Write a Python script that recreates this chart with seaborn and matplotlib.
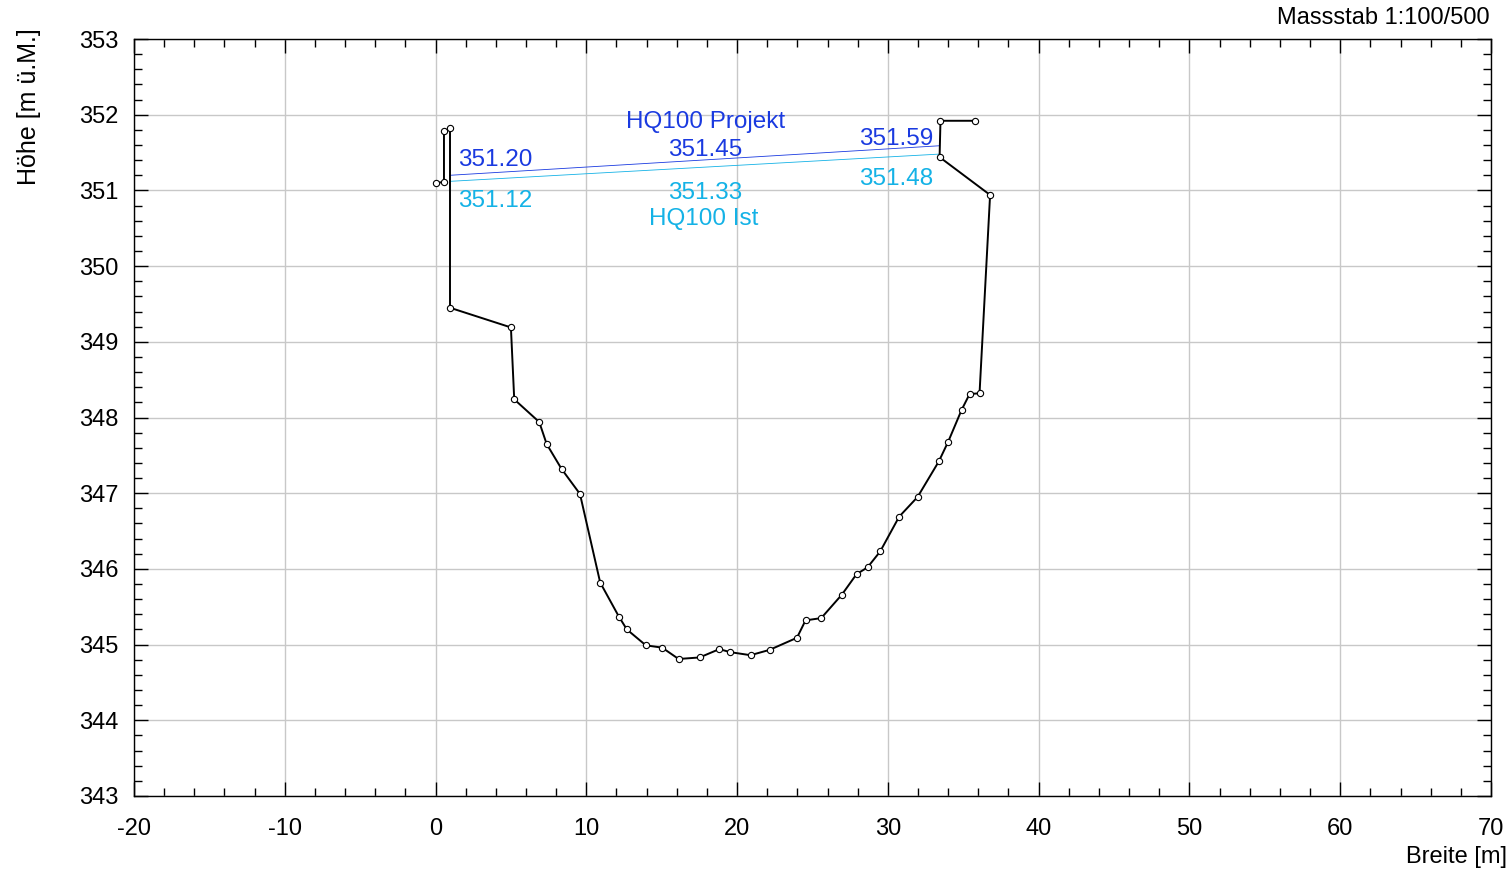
import seaborn as sns
import matplotlib.pyplot as plt
import pandas as pd
from matplotlib.ticker import MultipleLocator

# Querprofil (Breite [m], Höhe [m ü.M.])
profil_x = [0.0, 0.56, 0.56, 0.96, 0.96, 5.0, 5.22, 6.88, 7.37, 8.36, 9.58,
            10.92, 12.16, 12.69, 13.95, 15.03, 16.12, 17.51, 18.82, 19.55, 20.89,
            22.15, 23.97, 24.54, 25.58, 26.95, 27.92, 28.65, 29.49, 30.75, 31.97,
            33.38, 34.0, 34.89, 35.42, 36.08, 36.78, 33.43, 33.49, 35.79]
profil_y = [351.10, 351.11, 351.78, 351.82, 349.45, 349.19, 348.24, 347.94, 347.65,
            347.32, 346.99, 345.82, 345.37, 345.20, 344.99, 344.96, 344.81, 344.83,
            344.94, 344.90, 344.86, 344.93, 345.09, 345.32, 345.35, 345.66, 345.93,
            346.02, 346.23, 346.69, 346.95, 347.42, 347.68, 348.10, 348.31, 348.32,
            350.94, 351.44, 351.92, 351.92]

# Wasserspiegel HQ100
wsp_x = [0.96, 33.43]
projekt_y = [351.20, 351.59]
ist_y = [351.12, 351.48]
projekt_mitte = 351.45
ist_mitte = 351.33

blau = "#1a3ae0"
cyan = "#14b2e6"

sns.set_style("ticks")
plt.rcParams['font.family'] = ['Liberation Sans', 'DejaVu Sans']
plt.rcParams['axes.unicode_minus'] = False

fig = plt.figure(figsize=(15.12, 8.75), dpi=100)
ax = fig.add_axes([0.0886, 0.0903, 0.8975, 0.8651])

df = pd.DataFrame({'x': profil_x, 'y': profil_y})
# estimator=None, damit doppelte x-Werte nicht gemittelt werden
sns.lineplot(data=df, x='x', y='y', sort=False, estimator=None, color='black', lw=1.4,
             marker='o', markersize=4.5, markerfacecolor='white',
             markeredgecolor='black', markeredgewidth=0.8, ax=ax, zorder=5)

sns.lineplot(x=wsp_x, y=projekt_y, color=blau, lw=0.6, estimator=None, ax=ax, zorder=4)
sns.lineplot(x=wsp_x, y=ist_y, color=cyan, lw=0.6, estimator=None, ax=ax, zorder=4)

fs = 17.5
ax.text(1.5, projekt_y[0] + 0.06, f"{projekt_y[0]:.2f}", color=blau, fontsize=fs, ha='left', va='bottom')
ax.text(1.5, ist_y[0] - 0.11, f"{ist_y[0]:.2f}", color=cyan, fontsize=fs, ha='left', va='top')
ax.text(17.9, 351.90, "HQ100 Projekt", color=blau, fontsize=fs, ha='center', va='center')
ax.text(17.9, 351.53, f"{projekt_mitte:.2f}", color=blau, fontsize=fs, ha='center', va='center')
ax.text(17.9, 350.96, f"{ist_mitte:.2f}", color=cyan, fontsize=fs, ha='center', va='center')
ax.text(17.8, 350.62, "HQ100 Ist", color=cyan, fontsize=fs, ha='center', va='center')
ax.text(33.0, 351.68, f"{projekt_y[1]:.2f}", color=blau, fontsize=fs, ha='right', va='center')
ax.text(33.0, 351.15, f"{ist_y[1]:.2f}", color=cyan, fontsize=fs, ha='right', va='center')

ax.set_xlim(-20, 70)
ax.set_ylim(343, 353)
ax.xaxis.set_major_locator(MultipleLocator(10))
ax.xaxis.set_minor_locator(MultipleLocator(2))
ax.yaxis.set_major_locator(MultipleLocator(1))
ax.yaxis.set_minor_locator(MultipleLocator(0.2))
ax.grid(True, which='major', color='#c8c8c8', lw=1)
ax.tick_params(which='both', direction='in', top=True, right=True, labelsize=17, colors='black')
ax.tick_params(which='major', length=10, width=1)
ax.tick_params(which='minor', length=6, width=1)
ax.tick_params(axis='x', pad=16)
ax.tick_params(axis='y', pad=11)
for s in ax.spines.values():
    s.set_color('black')
    s.set_linewidth(1)

ax.set_xlabel("")
ax.set_ylabel("")
fig.text(0.019, 0.968, "Höhe [m ü.M.]", rotation=90, fontsize=18, color='black', ha='center', va='top')
fig.text(0.997, 0.008, "Breite [m]", fontsize=17, color='black', ha='right', va='bottom')
fig.text(0.985, 0.979, "Massstab 1:100/500", fontsize=17, color='black', ha='right', va='center')

fig.savefig("out.png", dpi=100)
